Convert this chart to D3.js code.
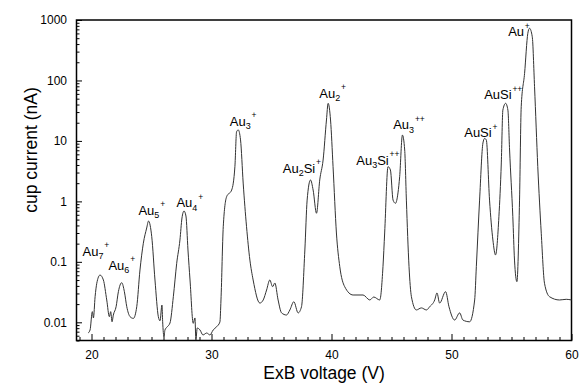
<!DOCTYPE html>
<html><head><meta charset="utf-8">
<script src="https://cdn.jsdelivr.net/npm/d3@7"></script>
<style>
body{margin:0;background:#fff}
svg{display:block}
text{font-family:"Liberation Sans",Arial,Helvetica,sans-serif;fill:#000}
</style>
</head><body>
<svg id="chart" width="580" height="390"></svg>
<script>
// ---- data ----
const voltage = [19.72,19.88,20.07,20.16,20.30,20.44,20.71,20.99,21.27,21.49,
21.60,21.71,21.82,22.05,22.24,22.52,22.74,22.94,23.21,23.49,
23.77,24.04,24.32,24.60,24.75,25.02,25.29,25.57,25.71,25.87,
25.93,26.04,26.12,26.32,26.54,26.82,27.10,27.37,27.54,27.71,
27.87,28.04,28.21,28.48,28.62,28.70,28.81,29.04,29.29,29.60,
29.87,30.14,30.43,30.70,30.79,30.98,31.26,31.68,31.95,32.09,
32.23,32.42,32.64,32.92,33.20,33.47,34.03,34.31,34.59,34.86,
35.09,35.28,35.55,35.84,36.25,36.53,36.86,37.22,37.50,37.78,
37.97,38.25,38.47,38.75,39.02,39.30,39.58,39.72,39.92,40.13,
40.41,40.69,41.10,41.80,42.63,43.19,43.52,44.02,44.29,44.43,
44.71,44.91,45.13,45.33,45.54,45.68,45.91,46.10,46.24,46.46,
46.66,47.07,47.49,47.91,48.18,48.60,48.79,49.01,49.51,49.79,
50.26,50.68,50.95,51.51,51.93,52.07,52.34,52.62,52.76,52.90,
53.17,53.45,53.67,53.95,54.15,54.28,54.51,54.70,54.84,55.11,
55.25,55.45,55.67,55.81,56.09,56.36,56.50,56.73,56.92,57.19,
57.48,57.75,58.17,59.00,59.56,60.00];

const current = [0.00665,0.00747,0.0150,0.0118,0.0265,0.0442,0.0605,0.0501,0.0234,0.0124,
0.0150,0.0102,0.0132,0.0181,0.0321,0.0452,0.0321,0.0181,0.0124,0.0116,
0.0181,0.0733,0.203,0.363,0.473,0.261,0.0501,0.0124,0.0106,0.0193,
0.0102,0.00571,0.00747,0.00845,0.00973,0.0265,0.0946,0.230,0.531,0.693,
0.573,0.157,0.0501,0.00962,0.0118,0.00509,0.00805,0.00747,0.00617,0.00665,
0.00617,0.00747,0.00845,0.0101,0.0234,0.381,1.195,1.54,3.75,14.2,
15.2,10.4,2.01,0.381,0.107,0.0501,0.0208,0.0234,0.0342,0.0501,
0.0388,0.0447,0.0234,0.0143,0.0132,0.0160,0.0219,0.0143,0.0181,0.157,
1.05,2.26,1.54,0.636,2.26,4.83,22.2,41.9,22.2,3.75,
0.300,0.0832,0.0388,0.0283,0.0283,0.0234,0.0262,0.0234,0.0832,0.300,
3.75,3.30,1.05,0.929,1.38,2.56,12.5,7.08,1.05,0.0832,
0.0265,0.0160,0.0173,0.0160,0.0181,0.0234,0.0306,0.0208,0.0321,0.0181,
0.0109,0.0143,0.0109,0.0102,0.0234,0.0832,1.05,9.25,11.0,10.4,
1.05,0.230,0.130,0.558,4.32,32.4,41.9,32.4,7.08,0.558,
0.107,0.0470,1.05,36.8,131,603,730,529,78.9,3.75,
0.297,0.0442,0.0265,0.0234,0.0240,0.0234];

const xTickValues = [20, 30, 40, 50, 60];
const yTickValues = [0.01, 0.1, 1, 10, 100, 1000];
const yTickLabels = ["0.01", "0.1", "1", "10", "100", "1000"];
const xTitle = "ExB voltage (V)";
const yTitle = "cup current (nA)";

// peak labels: parts [text, kind], anchor in data coordinates (voltage, current)
const labelParts = [
  [["Au",""],["7","sub"],["+","sup"]],
  [["Au",""],["6","sub"],["+","sup"]],
  [["Au",""],["5","sub"],["+","sup"]],
  [["Au",""],["4","sub"],["+","sup"]],
  [["Au",""],["3","sub"],["+","sup"]],
  [["Au",""],["2","sub"],["Si",""],["+","sup"]],
  [["Au",""],["2","sub"],["+","sup"]],
  [["Au",""],["3","sub"],["Si",""],["++","sup"]],
  [["Au",""],["3","sub"],["++","sup"]],
  [["AuSi",""],["+","sup"]],
  [["AuSi",""],["++","sup"]],
  [["Au",""],["+","sup"]]
];
const labelVoltage = [19.25, 21.41, 23.91, 27.08, 31.53, 35.94, 38.98, 42.06, 45.14, 51.06, 52.72, 54.72];
const labelCurrent = [0.125, 0.0733, 0.596, 0.807, 17.7, 3.0, 51.3, 4.0, 15.7, 11.6, 49.3, 543];

// ---- chart ----
const svg = d3.select("#chart");
const L = 76.5, R = 571.5, T = 20, B = 340.5;

const x = d3.scaleLinear().domain([18.75, 60]).range([L, R]);
const y = d3.scaleLog().domain([0.005, 1000]).range([B, T]);

// minor ticks
const xMinor = d3.range(19, 61).filter(v => v % 10 !== 0);
const yMinor = [];
[0.001, 0.01, 0.1, 1, 10, 100].forEach(d => {
  for (let k = 2; k <= 9; k++) { const v = d * k; if (v >= 0.005 && v < 1000) yMinor.push(v); }
});

svg.append("g").attr("transform", `translate(0,${B})`)
  .call(d3.axisBottom(x).tickValues(xMinor).tickSize(-3.5).tickFormat(""))
  .call(g => g.select(".domain").remove());
svg.append("g").attr("transform", `translate(0,${B})`)
  .call(d3.axisBottom(x).tickValues(xTickValues).tickSize(-6.5).tickPadding(9.5).tickFormat(d3.format("d")))
  .call(g => g.select(".domain").remove())
  .call(g => g.selectAll("text").attr("font-size", 12).attr("font-family", "Liberation Sans, Arial, sans-serif"));

svg.append("g").attr("transform", `translate(${L},0)`)
  .call(d3.axisLeft(y).tickValues(yMinor).tickSize(-3).tickFormat(""))
  .call(g => g.select(".domain").remove());
svg.append("g").attr("transform", `translate(${L},0)`)
  .call(d3.axisLeft(y).tickValues(yTickValues).tickSize(-5.5).tickPadding(9.5)
    .tickFormat((d, i) => yTickLabels[i]))
  .call(g => g.select(".domain").remove())
  .call(g => g.selectAll("text").attr("font-size", 12).attr("font-family", "Liberation Sans, Arial, sans-serif"));

svg.selectAll(".tick line").attr("stroke", "#000").attr("stroke-width", 1);

// frame
svg.append("rect").attr("x", L).attr("y", T).attr("width", R - L).attr("height", B - T)
  .attr("fill", "none").attr("stroke", "#000").attr("stroke-width", 1.5);

// data line
const pts = voltage.map((v, i) => [v, current[i]]);
svg.append("path").datum(pts)
  .attr("fill", "none").attr("stroke", "#333").attr("stroke-width", 1)
  .attr("d", d3.line().x(d => x(d[0])).y(d => y(d[1])).curve(d3.curveMonotoneX));

// peak labels
labelParts.forEach((parts, i) => {
  const t = svg.append("text")
    .attr("x", x(labelVoltage[i])).attr("y", y(labelCurrent[i]))
    .attr("font-size", 13);
  let off = 0;
  parts.forEach(([s, kind]) => {
    let target = kind === "sub" ? 3.5 : kind === "sup" ? -7.5 : 0;
    const ts = t.append("tspan").text(s).attr("dy", target - off)
      .attr("font-size", kind === "" ? 13 : (kind === "sub" ? 9 : 8.5));
    if (kind === "sup") ts.attr("dx", 0.8);
    off = target;
  });
});

// axis titles
svg.append("text").attr("x", (L + R) / 2).attr("y", 379)
  .attr("text-anchor", "middle").attr("font-size", 17.5).text(xTitle);
svg.append("text").attr("transform", "translate(37,150) rotate(-90)")
  .attr("text-anchor", "middle").attr("font-size", 17.5).text(yTitle);
</script>
</body></html>
